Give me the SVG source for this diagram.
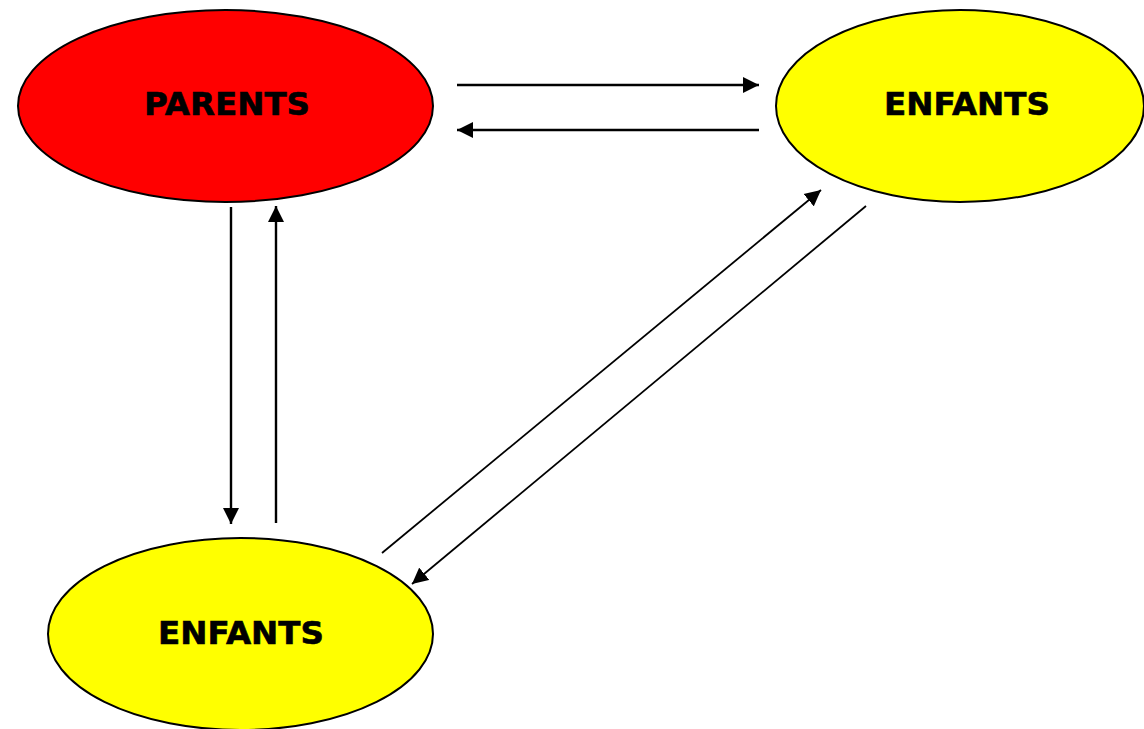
<svg xmlns="http://www.w3.org/2000/svg" width="1144" height="729" viewBox="0 0 1144 729">
<style>
.node{stroke:#000;stroke-width:2}
.lbl{font-family:"DejaVu Sans",Verdana,sans-serif;font-weight:bold;font-size:32.5px;fill:#000;text-anchor:middle;stroke:#000;stroke-width:0.6}
.c{stroke:#000;stroke-width:2.4;fill:none;marker-end:url(#ah)}
.d{stroke:#000;stroke-width:1.8;fill:none;marker-end:url(#ah)}
</style>
<defs>
<marker id="ah" markerUnits="userSpaceOnUse" markerWidth="16" markerHeight="17" refX="16" refY="8.5" orient="auto"><path d="M0,0.5 L16,8.5 L0,16.5 Z" fill="#000"/></marker>
</defs>
<rect width="1144" height="729" fill="#fff"/>
<g id="parents"><ellipse class="node" cx="225.5" cy="106" rx="207.5" ry="96" fill="#ff0000"/><text class="lbl" x="227" y="115">PARENTS</text></g>
<g id="enfants1"><ellipse class="node" cx="960" cy="106" rx="184" ry="96" fill="#ffff00"/><text class="lbl" x="967" y="115">ENFANTS</text></g>
<g id="enfants2"><ellipse class="node" cx="240.5" cy="634" rx="192.5" ry="96" fill="#ffff00"/><text class="lbl" x="241" y="644">ENFANTS</text></g>
<g id="connectors">
<line class="c" x1="457" y1="85" x2="759" y2="85"/>
<line class="c" x1="759" y1="130" x2="457" y2="130"/>
<line class="c" x1="231" y1="207" x2="231" y2="524"/>
<line class="c" x1="276" y1="523" x2="276" y2="206"/>
<line class="d" x1="382" y1="553" x2="821" y2="190"/>
<line class="d" x1="866" y1="206" x2="412" y2="584"/>
</g>
</svg>
